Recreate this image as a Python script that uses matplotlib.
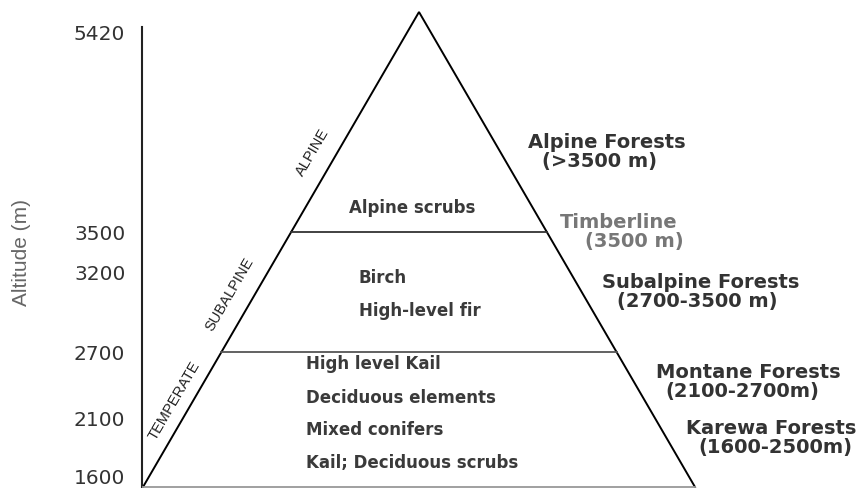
import numpy as np
import matplotlib
matplotlib.use("Agg")
import matplotlib.pyplot as plt

# altitude axis (schematic, not to scale)
alt_ticks = [1600, 2100, 2700, 3200, 3500, 5420]
tick_height = [10, 68, 135, 215, 254, 455]   # where each tick label sits on the drawing
level_height = [0, 68, 135, 215, 255, 455]   # same levels, used for the lines

# zone boundaries drawn across the pyramid
boundary_alt = [2700, 3500]
belts = ['TEMPERATE', 'SUBALPINE', 'ALPINE']

# vegetation inside the pyramid
alpine_veg = ['Alpine scrubs']
subalpine_veg = ['Birch', 'High-level fir']
temperate_veg = ['High level Kail', 'Deciduous elements', 'Mixed conifers',
                 'Kail; Deciduous scrubs']

# forest types on the right
forest_names = ['Alpine Forests', 'Timberline', 'Subalpine Forests',
                'Montane Forests', 'Karewa Forests']
forest_ranges = ['(>3500 m)', '(3500 m)', '(2700-3500 m)', '(2100-2700m)',
                 '(1600-2500m)']

# pyramid geometry (drawing units)
H = 475.0      # apex height
x0, W = 1.0, 552.0

def left_edge(y):
    return x0 + (W / 2) * y / H

def right_edge(y):
    return x0 + W - (W / 2) * y / H

narrow = ['Liberation Sans Narrow', 'Liberation Sans', 'DejaVu Sans']
txt_col = '#333333'

fig = plt.figure(figsize=(8.62, 4.88), dpi=100)
ax = fig.add_axes([142 / 862, 1 / 488, 720 / 862, 487 / 488])
ax.set_xlim(0, 720)
ax.set_ylim(0, 487)

# pyramid outline
ax.plot([x0, x0 + W / 2, x0 + W], [0, H, 0], color='k', lw=1.4,
        solid_joinstyle='miter', clip_on=False)

# zone boundaries
yb = np.interp(boundary_alt, alt_ticks, level_height)
for y, c in zip(yb, ['#555555', '#333333']):
    ax.plot([left_edge(y), right_edge(y)], [y, y], color=c, lw=1.3)

# axes styling
for s in ['top', 'right']:
    ax.spines[s].set_visible(False)
ax.spines['left'].set_bounds(0, 460)
ax.spines['left'].set_linewidth(1.5)
ax.spines['left'].set_color('#222222')
ax.spines['bottom'].set_bounds(x0, x0 + W)
ax.spines['bottom'].set_color('#999999')
ax.spines['bottom'].set_linewidth(1.3)
ax.set_xticks([])
ax.set_yticks(tick_height, [str(a) for a in alt_ticks])
ax.tick_params(axis='y', length=0, pad=12, labelsize=14.5, labelcolor=txt_col)

fig.text(22 / 862, 1 - 253 / 488, 'Altitude (m)', rotation=90, ha='center',
         va='center', fontsize=15, color='#666666', family=narrow)

# belt names along the left slope
belt_pos = [(32, 86), (88, 193), (171, 335)]
for name, (bx, by) in zip(belts, belt_pos):
    ax.text(bx, by, name, rotation=59.8, rotation_mode='anchor', ha='center',
            va='center', fontsize=10.5, family=narrow, color='#222222')

# vegetation
veg_kw = dict(fontsize=12, fontweight='bold', color='#3a3a3a', va='center')
ax.text(270, 279, alpine_veg[0], ha='center', **veg_kw)
for lab, y in zip(subalpine_veg, [209, 176]):
    ax.text(217, y, lab, ha='left', **veg_kw)
for lab, y in zip(temperate_veg, [123, 89, 57, 24]):
    ax.text(164, y, lab, ha='left', **veg_kw)

# forest types
name_pos = [(465, 344), (477, 264), (559, 204), (606, 115), (629, 58)]
range_pos = [(457, 325), (492, 246), (555, 185), (600, 95), (633, 39)]
for i, (nm, rg) in enumerate(zip(forest_names, forest_ranges)):
    col = '#777777' if nm == 'Timberline' else txt_col
    ax.text(*name_pos[i], nm, ha='center', va='center', fontsize=14,
            fontweight='bold', color=col)
    ax.text(*range_pos[i], rg, ha='center', va='center', fontsize=14,
            fontweight='bold', color=col)

fig.savefig('out.png', dpi=100)
